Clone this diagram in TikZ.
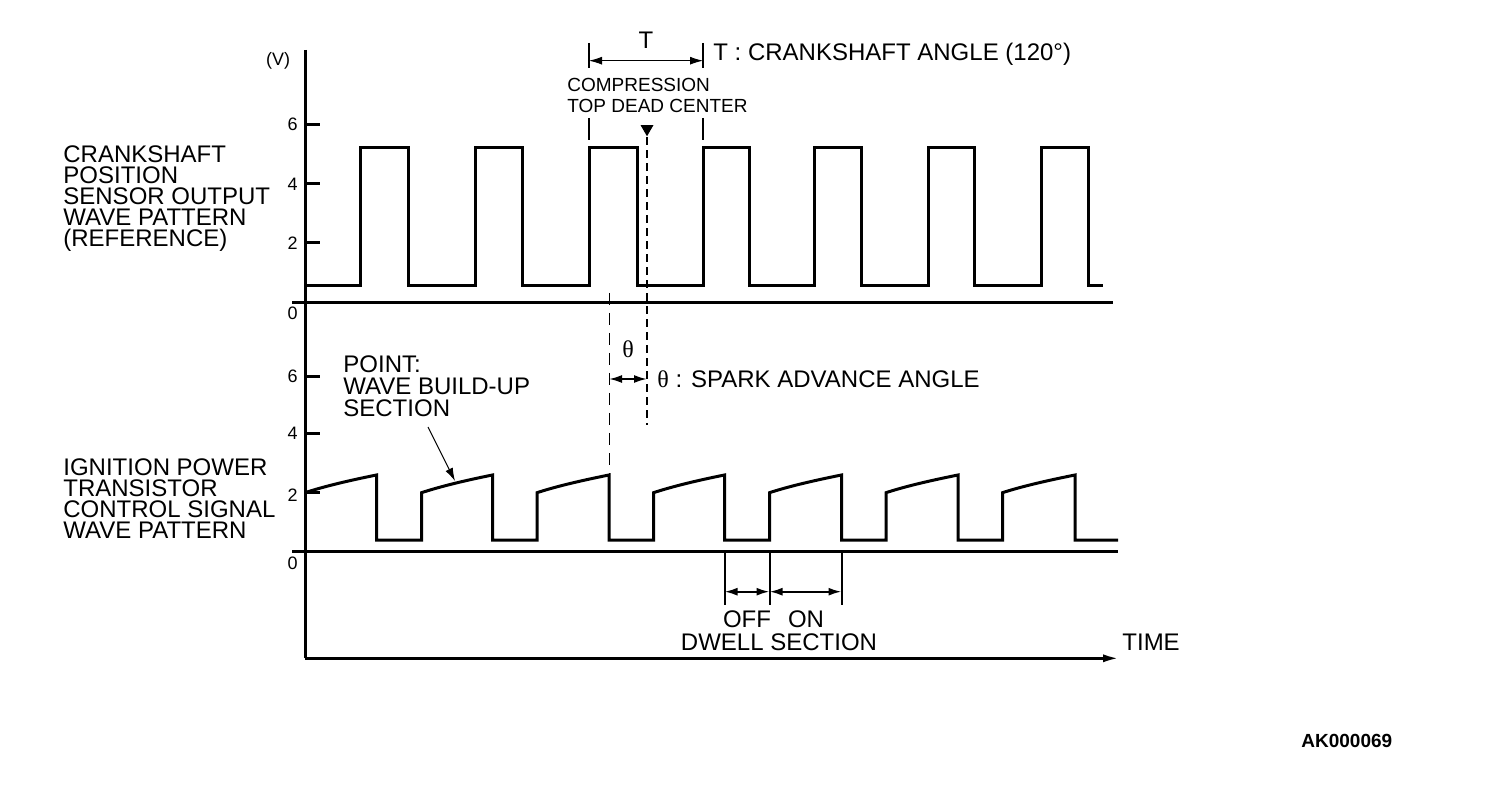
\documentclass[tikz,border=0pt]{standalone}
\usepackage{fontspec}
\setmainfont{Liberation Sans}
\newfontfamily\greekfont{Liberation Serif}
\usepackage{tikz}
\usetikzlibrary{positioning, shapes.geometric, arrows.meta}
\tikzstyle{sidetext} = [font=\fontsize{12}{10.6}\selectfont, align=left, inner sep=0pt, anchor=north west]
\tikzstyle{note} = [font=\fontsize{12}{11}\selectfont, inner sep=0pt]
\tikzstyle{smallnote} = [font=\fontsize{9.5}{10.5}\selectfont, align=left, inner sep=0pt, anchor=north west]
\tikzstyle{ticklabel} = [font=\fontsize{9}{10}\selectfont, inner sep=0pt, anchor=east]
\tikzstyle{wave} = [line width=1.5pt, line join=miter]
\tikzstyle{axisline} = [line width=1.5pt]
\tikzstyle{tick} = [line width=1.5pt]
\tikzstyle{marker} = [line width=1pt]
\tikzstyle{tdcline} = [line width=1pt, dash pattern=on 4pt off 2.5pt]
\tikzstyle{thindash} = [line width=0.4pt, dash pattern=on 6pt off 4pt]
\tikzstyle{tdcmark} = [regular polygon, regular polygon sides=3, shape border rotate=180, fill, inner sep=0pt, minimum size=7.5pt]
\tikzstyle{dimarrow} = [line width=1pt, {Latex[length=6.5pt,width=4pt]}-{Latex[length=6.5pt,width=4pt]}]
\tikzstyle{thinarrow} = [line width=0.5pt, {Latex[length=6.5pt,width=4pt]}-{Latex[length=6.5pt,width=4pt]}]
\tikzstyle{pointer} = [line width=0.5pt, -{Latex[length=6.5pt,width=4pt]}]
\tikzstyle{buildup} = [to path={.. controls +(20,-6.6) and +(-25,5) .. (\tikztotarget) \tikztonodes}]

\begin{document}
\begin{tikzpicture}[x=0.5pt, y=-0.5pt]
    \useasboundingbox (0,0) rectangle (1504,796);

    % Axes
    \coordinate (axtop) at (305,50);
    \coordinate (axcorner) at (305,658.3);
    \coordinate (timeend) at (1120,658.3);
    \draw[axisline] (axtop) -- (axcorner);
    \draw[axisline, -{Latex[length=8.5pt,width=4pt]}] (axcorner) -- (timeend);
    \draw[axisline] (292,302.7) -- (1113,302.7);
    \draw[axisline] (292,551.7) -- (1118,551.7);
    \node[note, anchor=west] (time) at (1122,642.3) {TIME};

    % Ticks
    \draw[tick] (305,125) -- +(15,0);
    \draw[tick] (305,184) -- +(15,0);
    \draw[tick] (305,243) -- +(15,0);
    \draw[tick] (305,376.5) -- +(15,0);
    \draw[tick] (305,433.5) -- +(15,0);
    \draw[tick] (305,492.7) -- +(15,0);
    \node[ticklabel, anchor=center] (volt) at (278,61) {(V)};
    \node[ticklabel] (up6) at (298,124) {6};
    \node[ticklabel] (up4) at (298,184) {4};
    \node[ticklabel] (up2) at (298,243) {2};
    \node[ticklabel] (up0) at (298,313) {0};
    \node[ticklabel] (lo6) at (298,376.5) {6};
    \node[ticklabel] (lo4) at (298,433.5) {4};
    \node[ticklabel] (lo2) at (298,495) {2};
    \node[ticklabel] (lo0) at (298,563.5) {0};

    % Labels
    \node[sidetext] (crank) at (63,145) {CRANKSHAFT\\POSITION\\SENSOR OUTPUT\\WAVE PATTERN\\(REFERENCE)};
    \node[sidetext] (ignition) at (63,458) {IGNITION POWER\\TRANSISTOR\\CONTROL SIGNAL\\WAVE PATTERN};
    \node[sidetext, font=\fontsize{12}{11}\selectfont] (point) at (343,355) {POINT:\\WAVE BUILD-UP\\SECTION};

    % Crankshaft sensor wave
    \draw[wave] (305,286) -- (360,286) -- (360,147.7) -- (408,147.7) -- (408,286)
        -- (475.5,286) -- (475.5,147.7) -- (522.5,147.7) -- (522.5,286)
        -- (589,286) -- (589,147.7) -- (637,147.7) -- (637,286)
        -- (703,286) -- (703,147.7) -- (749.5,147.7) -- (749.5,286)
        -- (814,286) -- (814,147.7) -- (861.5,147.7) -- (861.5,286)
        -- (928,286) -- (928,147.7) -- (974.5,147.7) -- (974.5,286)
        -- (1041,286) -- (1041,147.7) -- (1088,147.7) -- (1088,286) -- (1103,286);

    % Ignition signal wave
    \draw[wave] (305,492.7) to[buildup] (376.5,475) -- (376.5,540) -- (421.5,540)
        -- (421.5,492.7) to[buildup] (492.5,475) -- (492.5,540) -- (537,540)
        -- (537,492.7) to[buildup] (609,475) -- (609,540) -- (653.5,540)
        -- (653.5,492.7) to[buildup] (724.5,475) -- (724.5,540) -- (769.5,540)
        -- (769.5,492.7) to[buildup] (841.5,475) -- (841.5,540) -- (886,540)
        -- (886,492.7) to[buildup] (958,475) -- (958,540) -- (1002.5,540)
        -- (1002.5,492.7) to[buildup] (1075,475) -- (1075,540) -- (1118,540);

    % Crankshaft angle T
    \draw[marker] (589,43) -- (589,68);
    \draw[marker] (589,118) -- (589,140);
    \draw[marker] (703,43) -- (703,68);
    \draw[marker] (703,118) -- (703,140);
    \coordinate (tleft) at (589,60.7);
    \coordinate (tright) at (703,60.7);
    \node[note] (tlab) at (646,40) {T};
    \node[note, anchor=base west] (tdesc) at (713,61) {T : CRANKSHAFT ANGLE (120°)};
    \node[smallnote] (tdctext) at (567,78.3) {COMPRESSION\\TOP DEAD CENTER};
    \node[tdcmark] (tdc) at (647,128.8) {};
    \coordinate (tdcend) at (647,425);

    % Spark advance
    \coordinate (advtop) at (609,293);
    \coordinate (advbot) at (609,475);
    \coordinate (thleft) at (609,379);
    \coordinate (thright) at (647,379);
    \node[note] (thlab) at (628,349.5) {\greekfont θ};
    \node[note, anchor=base west] (thdesc) at (657,388) {{\greekfont θ} : SPARK ADVANCE ANGLE};

    % Dwell section
    \draw[marker] (724.5,551.7) -- (724.5,605);
    \draw[marker] (769.5,551.7) -- (769.5,605);
    \draw[marker] (841.5,551.7) -- (841.5,605);
    \coordinate (offleft) at (724.5,591.7);
    \coordinate (offright) at (769.5,591.7);
    \coordinate (onright) at (841.5,591.7);
    \node[note] (off) at (747,619) {OFF};
    \node[note] (on) at (806,619) {ON};
    \node[note] (dwell) at (779,642.3) {DWELL SECTION};

    \node[font=\bfseries\fontsize{9.5}{10}\selectfont, anchor=west, inner sep=0pt] (figid) at (1301,741) {AK000069};

    % Connections
    \draw[thinarrow] (tleft) -- (tright);
    \draw[tdcline] (tdc.south) -- (tdcend);
    \draw[thindash] (advtop) -- (advbot);
    \draw[dimarrow] (thleft) -- (thright);
    \coordinate (ptail) at (428,427);
    \coordinate (phead) at (455,481);
    \draw[pointer] (ptail) -- (phead);
    \draw[dimarrow] (offleft) -- (offright);
    \draw[dimarrow] (offright) -- (onright);
\end{tikzpicture}
\end{document}
